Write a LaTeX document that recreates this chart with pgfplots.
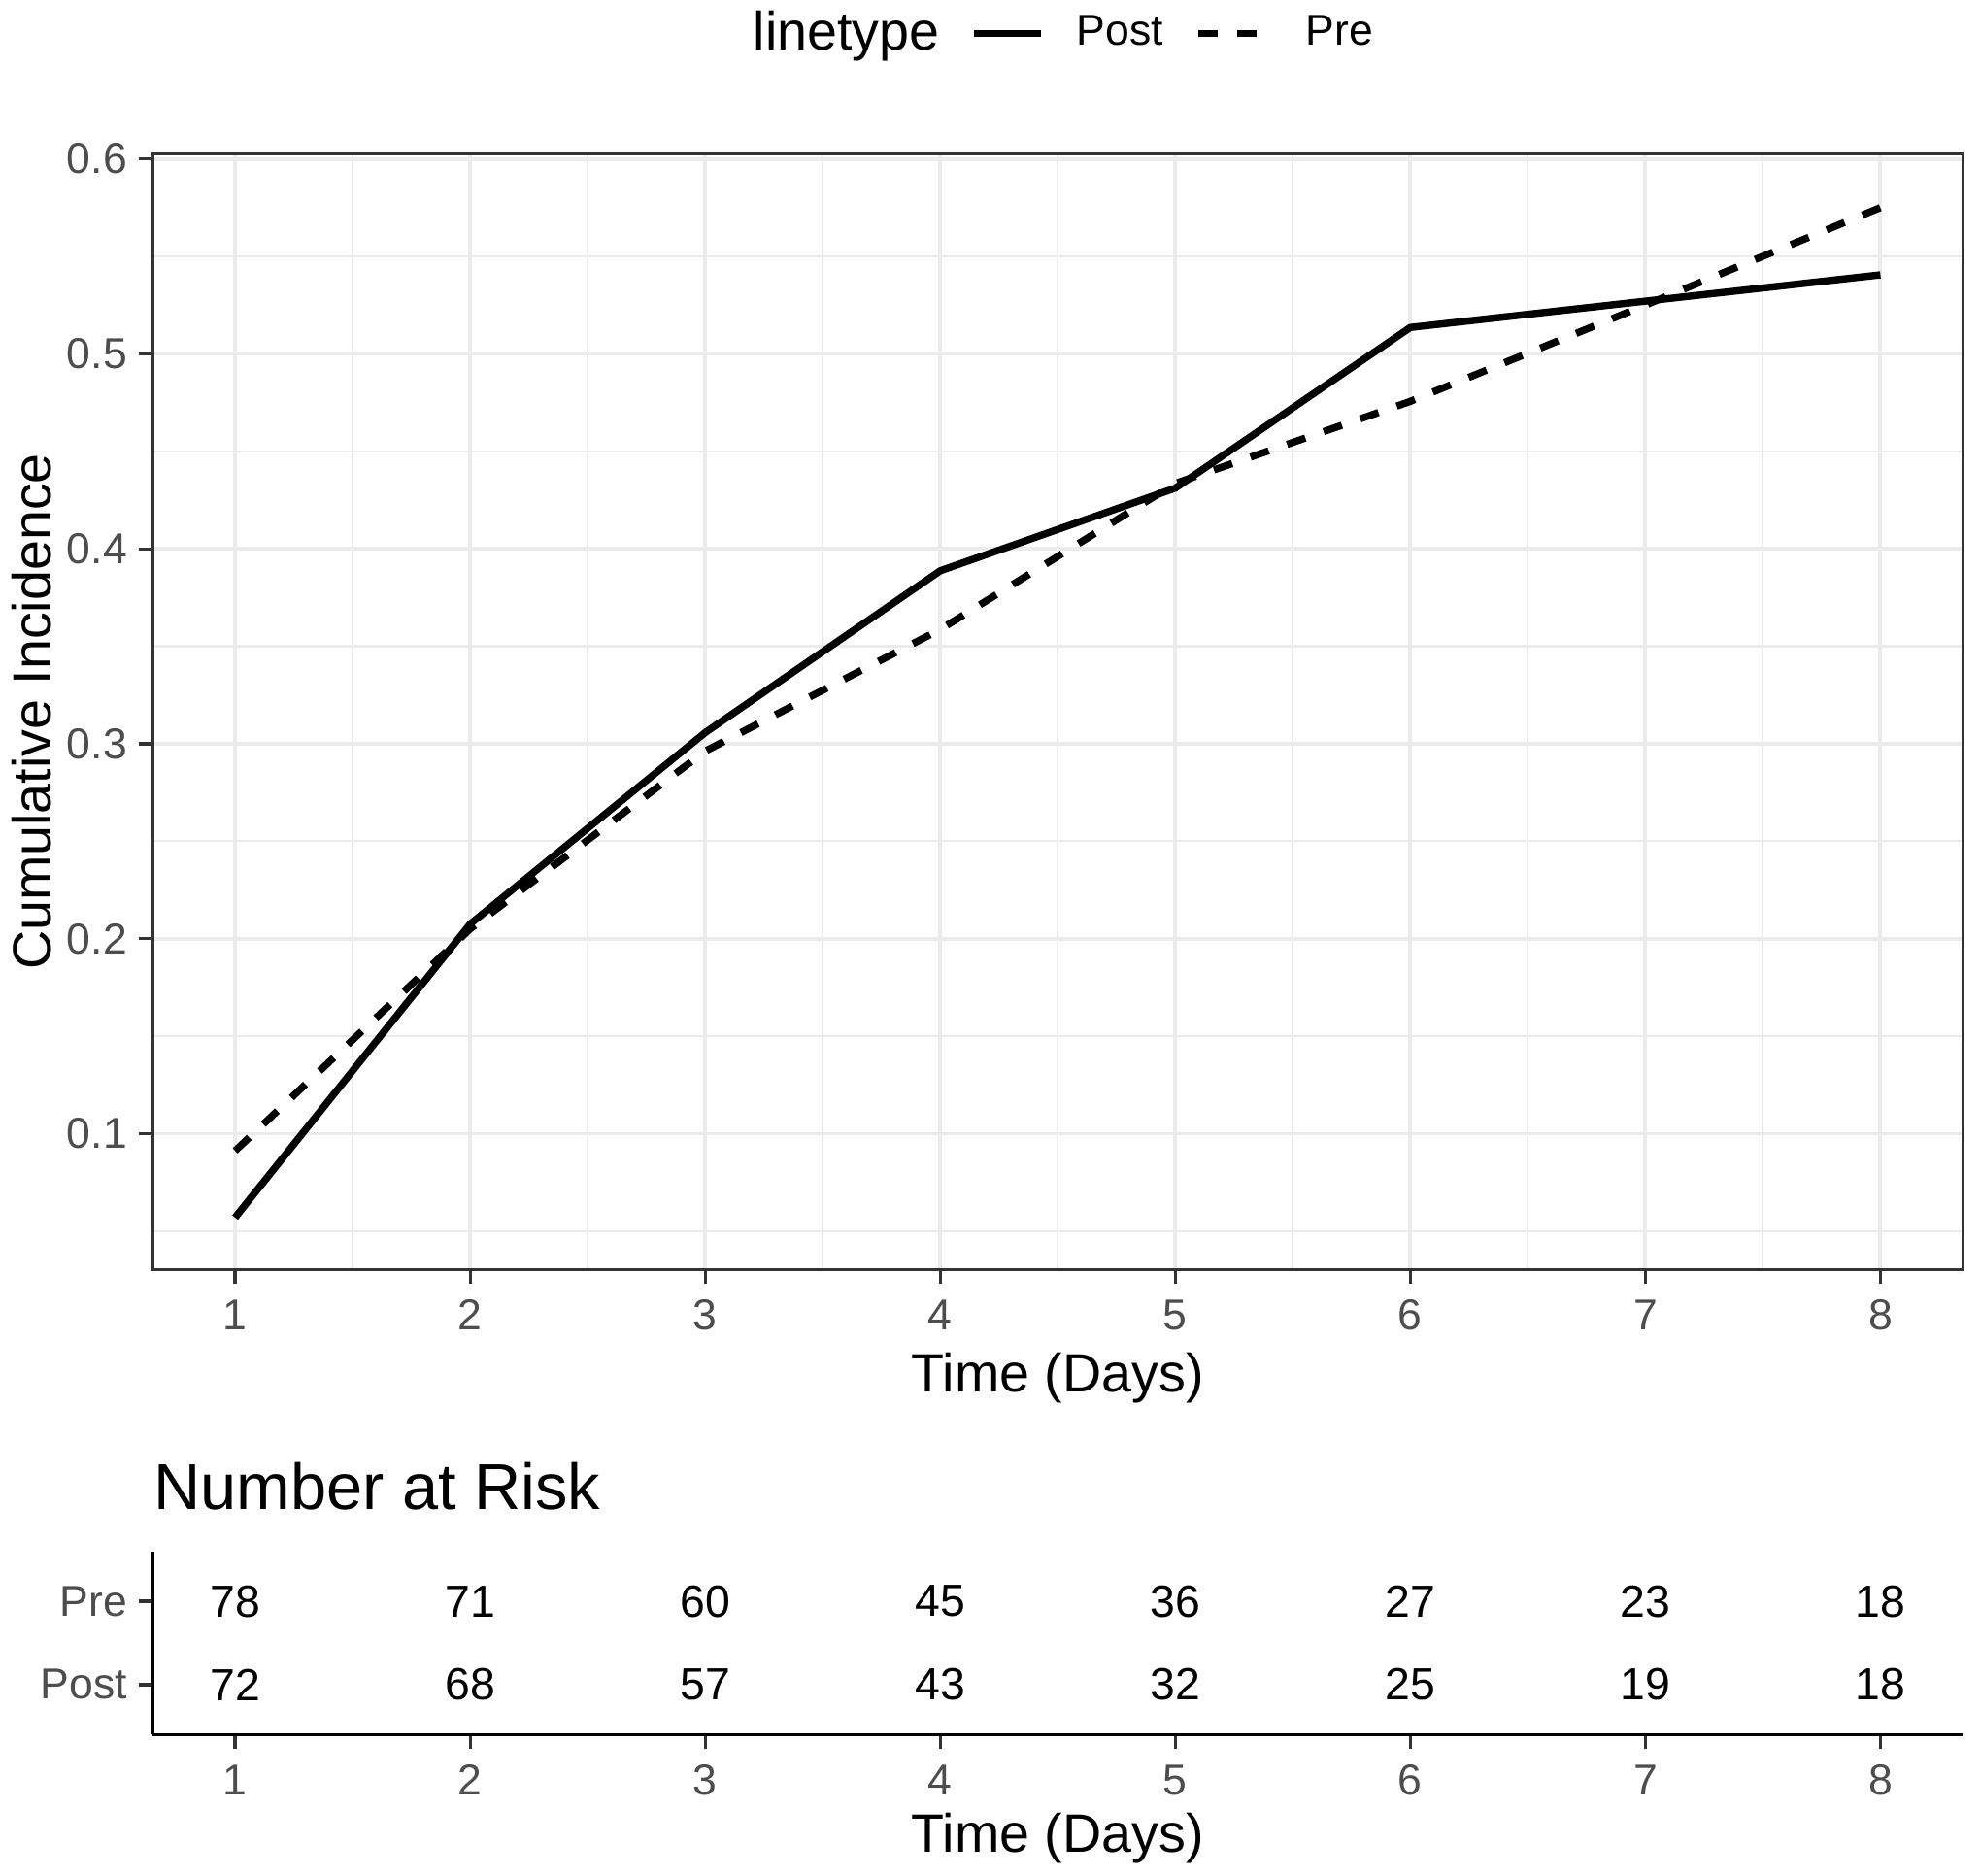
\documentclass[border=0pt]{standalone}
\usepackage{fontspec}
\setmainfont{Liberation Sans}
\usepackage{pgfplots}
\pgfplotsset{compat=1.18}
\definecolor{grey30}{HTML}{4D4D4D}
\definecolor{grey20}{HTML}{333333}
\definecolor{grey92}{HTML}{EBEBEB}
\newcommand{\ticksize}{\fontsize{9.6}{11.5}\selectfont}
\newcommand{\titlesize}{\fontsize{12}{14.4}\selectfont}
\begin{document}
\begin{tikzpicture}
\path[use as bounding box] (0,0) rectangle (440pt,416.5pt);
\begin{axis}[
  at={(33.95pt,134.5pt)}, anchor=south west,
  scale only axis, width=402pt, height=247.8pt,
  xmin=0.65, xmax=8.35, ymin=0.0303, ymax=0.6025,
  xtick={1,2,3,4,5,6,7,8},
  ytick={0.1,0.2,0.3,0.4,0.5,0.6},
  minor xtick={1.5,2.5,3.5,4.5,5.5,6.5,7.5},
  minor ytick={0.05,0.15,0.25,0.35,0.45,0.55},
  grid=both,
  major grid style={grey92, line width=0.85pt},
  minor grid style={grey92, line width=0.45pt},
  minor tick length=0pt,
  major tick length=3.2pt,
  tick align=outside,
  xtick pos=bottom, ytick pos=left,
  tick style={grey20, line width=0.7pt},
  axis line style={grey20, line width=0.7pt},
  ticklabel style={font=\ticksize, text=grey30},
  /pgf/number format/assume math mode=true,
  yticklabel style={xshift=1pt, /pgf/number format/.cd, fixed, fixed zerofill, precision=1},
  xlabel={Time (Days)}, ylabel={Cumulative Incidence},
  label style={font=\titlesize, text=black},
  xlabel style={at={(axis description cs:0.5,-0.0969)}, anchor=center},
  ylabel style={at={(axis description cs:-0.0672,0.5)}, anchor=center},
  legend image code/.code={\draw[#1] (0pt,0pt) -- (15pt,0pt);},
  legend style={at={(0.503,1.108)}, anchor=center, draw=none, fill=none,
    font=\ticksize, text=black,
    /tikz/column 2/.style={column sep=4.8pt},
    /tikz/column 3/.style={column sep=5pt},
    /tikz/column 4/.style={column sep=5pt},
    /tikz/column 5/.style={column sep=6.1pt}},
  legend columns=-1,
]
\addlegendimage{empty legend}
\addlegendentry{\titlesize linetype}
\addplot[black, line width=1.6pt, line join=round] coordinates {
(1,0.0570) (2,0.2075) (3,0.3057) (4,0.3887) (5,0.4311) (6,0.5135) (7,0.5270) (8,0.5405)};
\addlegendentry{Post}
\addplot[black, line width=1.6pt, line join=round, dash pattern=on 4.3pt off 4.3pt] coordinates {
(1,0.0912) (2,0.2050) (3,0.2962) (4,0.3586) (5,0.4335) (6,0.4756) (7,0.5250) (8,0.5750)};
\addlegendentry{Pre}
\end{axis}
\begin{axis}[
  at={(33.95pt,31.2pt)}, anchor=south west,
  scale only axis, width=402pt, height=40.7pt,
  xmin=0.65, xmax=8.35, ymin=0.4, ymax=2.6,
  axis x line=bottom, axis y line=left,
  axis line style={-, black, line width=0.75pt},
  xtick={1,2,3,4,5,6,7,8}, ytick={1,2}, yticklabels={Post,Pre},
  tick align=outside, major tick length=3.2pt,
  tick style={grey20, line width=0.7pt},
  ticklabel style={font=\ticksize, text=grey30},
  yticklabel style={xshift=1pt},
  /pgf/number format/assume math mode=true,
  xlabel={Time (Days)},
  xlabel style={font=\titlesize, text=black, at={(axis description cs:0.5,-0.565)}, anchor=center},
  title={Number at Risk},
  title style={font=\fontsize{14.4}{17}\selectfont, at={(axis description cs:0,1)}, anchor=base west, yshift=3.2pt, inner xsep=0pt},
  clip=false,
]
\addplot[draw=none, mark=none, nodes near coords, point meta=explicit symbolic,
  nodes near coords style={anchor=center, font=\fontsize{10}{12}\selectfont, text=black}]
  table[meta=n] {
x y n
1 2 78
2 2 71
3 2 60
4 2 45
5 2 36
6 2 27
7 2 23
8 2 18
1 1 72
2 1 68
3 1 57
4 1 43
5 1 32
6 1 25
7 1 19
8 1 18
};
\end{axis}
\end{tikzpicture}
\end{document}
